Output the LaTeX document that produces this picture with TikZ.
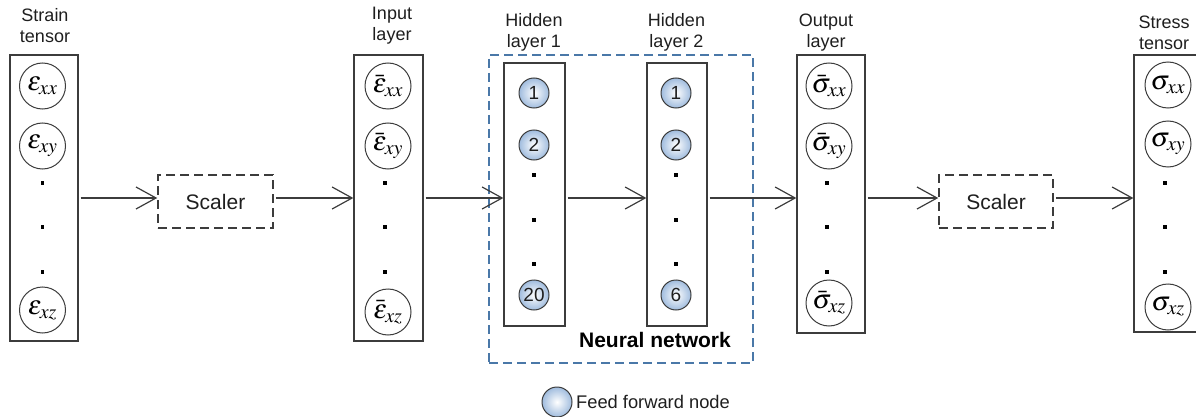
\documentclass[tikz,border=0pt]{standalone}
\usepackage{mathptmx}
\usepackage{fontspec}
\setmainfont{Liberation Sans}
\usetikzlibrary{arrows.meta}
\definecolor{nnblue}{RGB}{74,120,168}
\definecolor{ffouter}{RGB}{160,188,222}
\definecolor{linegray}{RGB}{60,60,60}
\definecolor{txt}{RGB}{30,30,30}
\begin{document}
\begin{tikzpicture}[x=1pt,y=-1pt,
  layerbox/.style={draw=linegray, line width=1.3pt, rectangle, inner sep=0pt},
  tensornode/.style={circle, draw=linegray, line width=1pt, minimum size=46pt, inner sep=0pt, font=\fontsize{27}{27}\selectfont},
  ffnode/.style={circle, draw=linegray, line width=1pt, minimum size=30pt, inner sep=0pt, shading=radial, inner color=white, outer color=ffouter, font=\fontsize{19}{19}\selectfont, text=txt},
  dotnode/.style={fill=black, minimum size=3.5pt, inner sep=0pt, rectangle},
  scaler/.style={draw=linegray, dash pattern=on 9pt off 5pt, line width=1.5pt, minimum width=115pt, minimum height=53pt, font=\fontsize{21}{21}\selectfont, text=txt, inner sep=0pt},
  conn/.style={-{Straight Barb[length=20pt,width=22pt,line width=1.2pt]}, line width=1.3pt, draw=linegray, shorten <=2pt},
  lbl/.style={align=center, font=\fontsize{18}{21}\selectfont, text=txt}
]
\useasboundingbox (0,0) rectangle (1196,417);
\clip (0,0) rectangle (1196,417);

% layer boxes
\node[layerbox, minimum width=68pt, minimum height=286pt] (strain) at (44,198) {};
\node[layerbox, minimum width=69pt, minimum height=286pt] (input) at (388.5,198) {};
\node[layerbox, minimum width=61pt, minimum height=263pt] (h1) at (534.5,194.5) {};
\node[layerbox, minimum width=60pt, minimum height=263pt] (h2) at (677,194.5) {};
\node[layerbox, minimum width=68pt, minimum height=278pt] (output) at (831,194) {};
\node[layerbox, minimum width=68pt, minimum height=277pt] (stress) at (1168,193.5) {};

% neural network frame
\node[draw=nnblue, dash pattern=on 9pt off 5pt, line width=1.5pt, rectangle, inner sep=0pt, minimum width=264pt, minimum height=308pt] (nn) at (621,209) {};
\node[font=\bfseries\fontsize{21}{21}\selectfont, text=black] (nnlbl) at (655,340) {Neural network};

% scalers
\node[scaler] (sc1) at (215.5,201.5) {Scaler};
\node[scaler, minimum width=114pt] (sc2) at (996,201.5) {Scaler};

% labels
\node[lbl] (lstrain) at (45,26) {Strain\\tensor};
\node[lbl] (linput) at (392,26) {Input\\layer};
\node[lbl] (lh1) at (534,32.5) {Hidden\\layer 1};
\node[lbl] (lh2) at (676.5,32.5) {Hidden\\layer 2};
\node[lbl] (lout) at (826,32.5) {Output\\layer};
\node[lbl] (lstress) at (1164,32.5) {Stress\\tensor};

% strain nodes
\node[tensornode] (e1) at (42.5,86) {$\varepsilon_{xx}$};
\node[tensornode] (e2) at (42.5,146) {$\varepsilon_{xy}$};
\node[tensornode] (e3) at (42.5,310) {$\varepsilon_{xz}$};
\node[dotnode] (ed1) at (42.5,183) {};
\node[dotnode] (ed2) at (42.5,227) {};
\node[dotnode] (ed3) at (42.5,272) {};

% input nodes
\node[tensornode] (i1) at (388,86) {$\bar{\varepsilon}_{xx}$};
\node[tensornode] (i2) at (388,146) {$\bar{\varepsilon}_{xy}$};
\node[tensornode] (i3) at (388,312) {$\bar{\varepsilon}_{xz}$};
\node[dotnode] (id1) at (385,183) {};
\node[dotnode] (id2) at (385,227) {};
\node[dotnode] (id3) at (385,272) {};

% hidden 1
\node[ffnode] (a1) at (534,93) {1};
\node[ffnode] (a2) at (534,145) {2};
\node[ffnode] (a3) at (534,295) {20};
\node[dotnode] (ad1) at (534,175) {};
\node[dotnode] (ad2) at (534,220) {};
\node[dotnode] (ad3) at (534,264) {};

% hidden 2
\node[ffnode] (b1) at (676,93) {1};
\node[ffnode] (b2) at (676,145) {2};
\node[ffnode] (b3) at (676,295) {6};
\node[dotnode] (bd1) at (676,175) {};
\node[dotnode] (bd2) at (676,220) {};
\node[dotnode] (bd3) at (676,264) {};

% output nodes
\node[tensornode] (o1) at (829,86) {$\bar{\sigma}_{xx}$};
\node[tensornode] (o2) at (829,146) {$\bar{\sigma}_{xy}$};
\node[tensornode] (o3) at (829,303) {$\bar{\sigma}_{xz}$};
\node[dotnode] (od1) at (827,183) {};
\node[dotnode] (od2) at (827,227) {};
\node[dotnode] (od3) at (827,272) {};

% stress nodes
\node[tensornode] (s1) at (1168,85) {$\sigma_{xx}$};
\node[tensornode] (s2) at (1168,144) {$\sigma_{xy}$};
\node[tensornode] (s3) at (1168,307) {$\sigma_{xz}$};
\node[dotnode] (sd1) at (1165,183) {};
\node[dotnode] (sd2) at (1165,227) {};
\node[dotnode] (sd3) at (1165,272) {};

% connectors
\coordinate (ay) at (0,198);
\draw[conn] (strain.east |- ay) -- (sc1.west |- ay);
\draw[conn] (sc1.east |- ay) -- (input.west |- ay);
\draw[conn] (input.east |- ay) -- (h1.west |- ay);
\draw[conn] (h1.east |- ay) -- (h2.west |- ay);
\draw[conn] (h2.east |- ay) -- (output.west |- ay);
\draw[conn] (output.east |- ay) -- (sc2.west |- ay);
\draw[conn] (sc2.east |- ay) -- (stress.west |- ay);

% legend
\node[ffnode] (leg) at (557,402) {};
\node[anchor=west, font=\fontsize{18.3}{18.3}\selectfont, text=txt, inner sep=0pt] (legt) at (576,402) {Feed forward node};
\end{tikzpicture}
\end{document}
